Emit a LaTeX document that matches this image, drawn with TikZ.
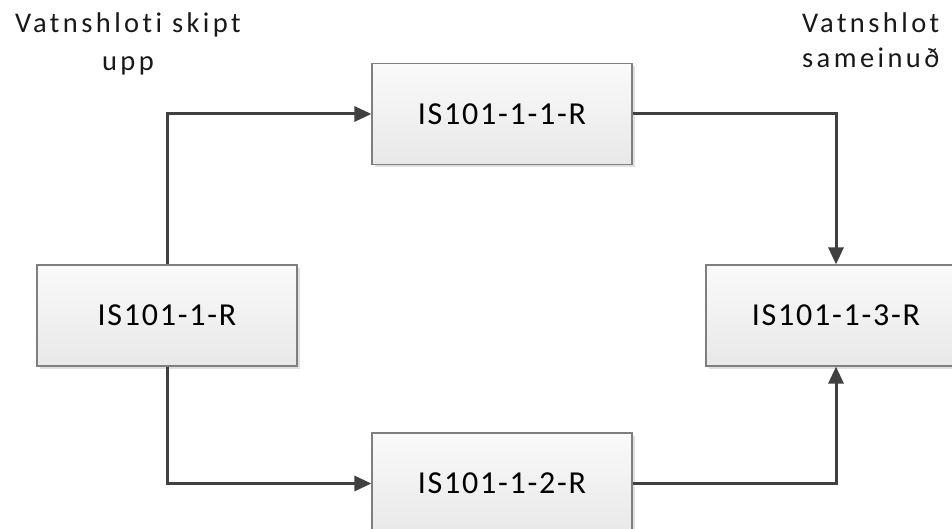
\documentclass[tikz,border=0pt]{standalone}
\usepackage{fontspec}
\setmainfont{Carlito}
\newfontfamily\boxfont[LetterSpace=5.5,Ligatures=NoCommon]{Carlito}
\newfontfamily\labfont[LetterSpace=12,Ligatures=NoCommon]{Carlito}
\usetikzlibrary{arrows.meta,shadows}
\definecolor{linegray}{HTML}{404040}
\definecolor{bordergray}{HTML}{7F7F7F}
\tikzset{
  procbox/.style={rectangle, minimum width=260pt, minimum height=101pt, inner sep=0pt,
    draw=bordergray, line width=1.2pt, top color=white!98!black, bottom color=white!91!black,
    drop shadow={shadow xshift=3pt, shadow yshift=-3pt, fill=black!12, opacity=1},
    font=\boxfont\fontsize{32}{38}\selectfont, text=black},
  flow/.style={draw=linegray, line width=3pt, -{Triangle[length=17pt,width=15pt]}},
  lab/.style={font=\labfont\fontsize{28.5}{34}\selectfont, text=black!90, inner sep=0pt}
}
\begin{document}
\begin{tikzpicture}[x=1pt,y=-1pt]
\clip (0,0) rectangle (952,529);
\fill[white] (0,0) rectangle (952,529);
\node[procbox] (src) at (167,315.5) {IS101-1-R};
\node[procbox] (top) at (502,114) {IS101-1-1-R};
\node[procbox] (bot) at (502,483.5) {IS101-1-2-R};
\node[procbox] (dst) at (836,315.5) {IS101-1-3-R};
\draw[flow] (src.north) |- (top.west);
\draw[flow] (src.south) |- (bot.west);
\draw[flow] (top.east) -| (dst.north);
\draw[flow] (bot.east) -| (dst.south);
\node[lab, anchor=base] (la1) at (128,33) {Vatnshloti skipt};
\node[lab, anchor=base] (la2) at (128,71) {upp};
\node[lab, anchor=base west] (lb1) at (802,33) {Vatnshlot};
\node[lab, anchor=base west] (lb2) at (802,68) {sameinuð};
\end{tikzpicture}
\end{document}
